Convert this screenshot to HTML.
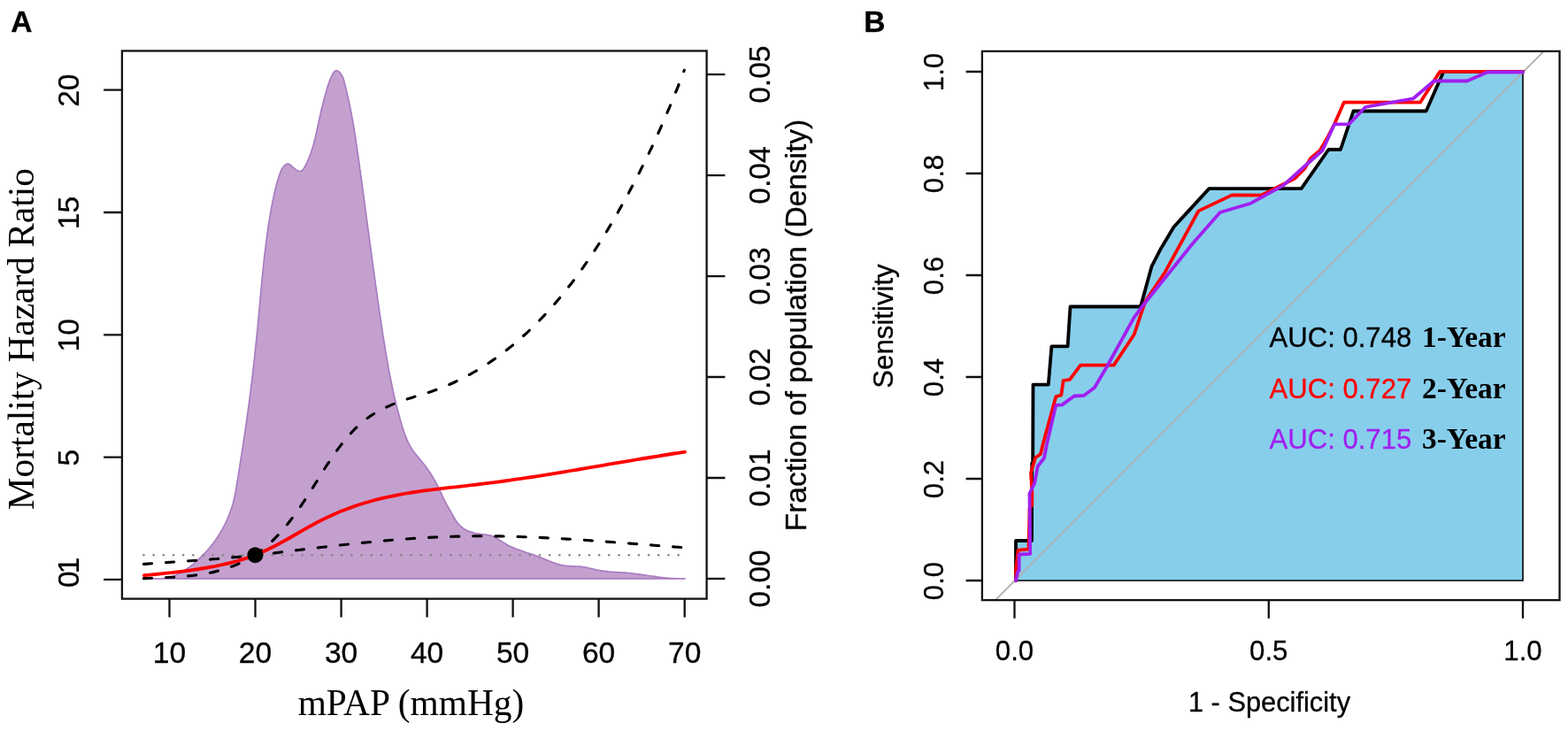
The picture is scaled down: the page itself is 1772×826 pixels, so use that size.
<!DOCTYPE html>
<html lang="en"><head><meta charset="utf-8"><title>mPAP hazard ratio and ROC</title>
<style>
html,body{margin:0;padding:0;background:#fff;}
body{width:1772px;height:826px;overflow:hidden;}
svg{display:block;}
text{font-family:"Liberation Sans",Arial,Helvetica,sans-serif;fill:#000;stroke:#000;stroke-width:0.3px;stroke-linejoin:round;}
.serif{font-family:"Liberation Serif","Times New Roman",Times,serif;stroke:none;}
.ax{stroke:#111111;stroke-width:2.3;fill:none;}
.ci{fill:none;stroke:#000;stroke-width:3.14;stroke-linecap:round;}
</style></head><body>
<svg width="1772" height="826" viewBox="0 0 1772 826">
<rect x="0" y="0" width="1772" height="826" fill="#ffffff"/>
<text x="12.3" y="36" font-size="33.6" font-weight="bold">A</text>
<text x="976.2" y="36" font-size="33.6" font-weight="bold">B</text>
<g id="panelA">
<path d="M169.9 653.8L171.7 653.8L173.4 653.8L175.1 653.8L176.7 653.8L178.4 653.8L180.1 653.8L181.7 653.8L183.3 653.8L184.9 653.8L186.5 653.8L188.1 653.4L189.7 653.0L191.2 652.6L192.8 652.1L194.3 651.6L195.8 651.0L197.3 650.4L198.8 649.8L200.2 649.1L201.7 648.4L203.1 647.6L204.6 646.9L206.0 646.1L207.4 645.2L208.8 644.3L210.1 643.4L211.5 642.5L212.8 641.6L214.2 640.6L215.5 639.6L216.8 638.6L218.1 637.6L219.4 636.5L220.6 635.4L221.9 634.3L223.1 633.2L224.3 632.1L225.5 631.0L226.7 629.9L227.9 628.7L229.1 627.5L230.2 626.3L231.4 625.2L232.5 623.9L233.6 622.7L234.7 621.5L235.7 620.3L236.8 619.0L237.8 617.7L238.9 616.4L239.9 615.2L240.9 613.9L241.9 612.5L242.8 611.2L243.8 609.9L244.7 608.5L245.6 607.2L246.5 605.8L247.4 604.4L248.3 603.1L249.1 601.7L250.0 600.3L250.8 598.8L251.6 597.4L252.4 596.0L253.1 594.5L253.9 593.1L254.6 591.6L255.3 590.2L256.0 588.7L256.7 587.2L257.3 585.7L258.0 584.2L258.6 582.7L259.2 581.2L259.7 579.6L260.3 578.1L260.8 576.6L261.4 575.0L261.9 573.5L262.4 571.9L262.8 570.3L263.3 568.8L263.7 567.2L264.1 565.6L264.5 564.0L264.8 562.4L265.2 560.8L265.5 559.2L265.9 557.6L266.2 556.0L266.5 554.4L266.8 552.7L267.0 551.1L267.3 549.5L267.6 547.9L267.8 546.2L268.1 544.6L268.4 543.0L268.6 541.4L268.9 539.7L269.1 538.1L269.4 536.5L269.6 534.9L269.9 533.2L270.1 531.6L270.4 530.0L270.7 528.4L270.9 526.8L271.2 525.1L271.4 523.5L271.7 521.9L271.9 520.3L272.2 518.7L272.4 517.0L272.7 515.4L273.0 513.8L273.2 512.2L273.5 510.6L273.7 508.9L274.0 507.3L274.2 505.7L274.5 504.1L274.7 502.5L275.0 500.9L275.2 499.2L275.4 497.6L275.7 496.0L275.9 494.4L276.2 492.8L276.4 491.1L276.7 489.5L276.9 487.9L277.1 486.3L277.4 484.7L277.6 483.0L277.8 481.4L278.1 479.8L278.3 478.2L278.5 476.6L278.8 474.9L279.0 473.3L279.2 471.7L279.5 470.1L279.7 468.5L279.9 466.8L280.1 465.2L280.3 463.6L280.6 462.0L280.8 460.3L281.0 458.7L281.2 457.1L281.4 455.5L281.6 453.8L281.9 452.2L282.1 450.6L282.3 449.0L282.5 447.4L282.7 445.7L282.9 444.1L283.1 442.5L283.3 440.8L283.5 439.2L283.7 437.6L283.9 436.0L284.1 434.3L284.3 432.7L284.5 431.1L284.7 429.5L284.9 427.8L285.1 426.2L285.3 424.6L285.5 423.0L285.7 421.3L285.9 419.7L286.1 418.1L286.2 416.4L286.4 414.8L286.6 413.2L286.8 411.6L287.0 409.9L287.2 408.3L287.3 406.7L287.5 405.0L287.7 403.4L287.9 401.8L288.1 400.1L288.2 398.5L288.4 396.9L288.6 395.2L288.7 393.6L288.9 392.0L289.1 390.4L289.3 388.7L289.4 387.1L289.6 385.5L289.8 383.8L289.9 382.2L290.1 380.6L290.2 378.9L290.4 377.3L290.6 375.7L290.7 374.0L290.9 372.4L291.0 370.8L291.2 369.1L291.4 367.5L291.5 365.9L291.7 364.2L291.8 362.6L292.0 360.9L292.1 359.3L292.3 357.7L292.4 356.0L292.6 354.4L292.7 352.8L292.9 351.1L293.0 349.5L293.2 347.9L293.3 346.2L293.5 344.6L293.6 343.0L293.8 341.3L293.9 339.7L294.1 338.1L294.2 336.4L294.4 334.8L294.5 333.2L294.7 331.5L294.8 329.9L295.0 328.2L295.1 326.6L295.3 325.0L295.4 323.3L295.6 321.7L295.7 320.1L295.9 318.4L296.0 316.8L296.2 315.2L296.3 313.5L296.5 311.9L296.7 310.3L296.8 308.6L297.0 307.0L297.2 305.4L297.3 303.8L297.5 302.1L297.7 300.5L297.8 298.9L298.0 297.2L298.2 295.6L298.4 294.0L298.5 292.3L298.7 290.7L298.9 289.1L299.1 287.5L299.3 285.8L299.5 284.2L299.7 282.6L299.9 280.9L300.1 279.3L300.3 277.7L300.5 276.1L300.7 274.4L300.9 272.8L301.1 271.2L301.3 269.6L301.5 268.0L301.8 266.3L302.0 264.7L302.2 263.1L302.4 261.5L302.7 259.8L302.9 258.2L303.1 256.6L303.4 255.0L303.6 253.4L303.9 251.8L304.1 250.1L304.4 248.5L304.7 246.9L304.9 245.3L305.2 243.7L305.5 242.1L305.7 240.5L306.0 238.8L306.3 237.2L306.6 235.6L306.9 234.0L307.2 232.4L307.5 230.8L307.8 229.2L308.1 227.6L308.4 226.0L308.8 224.4L309.1 222.8L309.4 221.2L309.8 219.6L310.1 218.0L310.5 216.4L310.9 214.8L311.3 213.2L311.7 211.6L312.1 210.0L312.5 208.4L312.9 206.8L313.4 205.2L313.9 203.7L314.3 202.1L314.8 200.5L315.4 198.9L315.9 197.3L316.5 195.8L317.1 194.2L317.7 192.7L318.4 191.2L319.3 189.8L320.2 188.5L321.3 187.3L322.5 186.2L323.8 185.4L325.2 185.1L326.7 185.5L328.1 186.3L329.4 187.5L330.7 188.7L332.0 189.8L333.3 191.0L334.8 192.0L336.4 192.8L338.1 193.4L339.7 193.5L341.0 193.0L342.1 192.0L343.1 190.7L343.9 189.3L344.7 187.8L345.5 186.3L346.3 184.8L347.0 183.3L347.7 181.8L348.4 180.3L349.0 178.8L349.6 177.3L350.2 175.7L350.8 174.2L351.4 172.6L351.9 171.1L352.4 169.5L352.9 168.0L353.4 166.4L353.8 164.9L354.3 163.3L354.7 161.7L355.1 160.1L355.5 158.5L355.9 157.0L356.3 155.4L356.7 153.8L357.0 152.2L357.4 150.6L357.8 149.0L358.1 147.4L358.5 145.8L358.8 144.2L359.1 142.6L359.5 141.0L359.8 139.4L360.2 137.8L360.5 136.1L360.9 134.5L361.2 132.9L361.6 131.3L361.9 129.7L362.3 128.1L362.7 126.5L363.0 124.9L363.4 123.3L363.8 121.7L364.2 120.1L364.6 118.5L365.0 116.9L365.4 115.3L365.8 113.7L366.2 112.2L366.6 110.6L367.1 109.0L367.5 107.4L367.9 105.9L368.4 104.3L368.8 102.8L369.3 101.2L369.7 99.7L370.2 98.1L370.7 96.6L371.2 95.1L371.7 93.5L372.3 91.9L372.9 90.4L373.6 88.8L374.2 87.2L375.0 85.6L375.7 84.0L376.6 82.5L377.7 81.2L378.9 80.3L380.3 79.8L381.6 80.1L382.9 80.9L384.1 82.0L385.1 83.2L386.0 84.5L386.7 85.9L387.4 87.4L388.0 88.9L388.5 90.5L389.0 92.2L389.4 93.8L389.8 95.4L390.2 97.1L390.6 98.7L391.0 100.3L391.4 101.9L391.8 103.5L392.2 105.1L392.5 106.8L392.9 108.4L393.3 110.0L393.6 111.5L394.0 113.1L394.3 114.7L394.7 116.3L395.0 117.9L395.4 119.5L395.7 121.1L396.0 122.7L396.3 124.3L396.6 125.9L396.9 127.5L397.2 129.1L397.5 130.7L397.8 132.3L398.1 133.9L398.4 135.5L398.7 137.2L399.0 138.8L399.3 140.4L399.5 142.0L399.8 143.6L400.1 145.2L400.3 146.8L400.6 148.5L400.9 150.1L401.1 151.7L401.4 153.3L401.6 154.9L401.9 156.6L402.1 158.2L402.3 159.8L402.6 161.4L402.8 163.1L403.1 164.7L403.3 166.3L403.5 167.9L403.8 169.6L404.0 171.2L404.2 172.8L404.5 174.4L404.7 176.1L404.9 177.7L405.2 179.3L405.4 180.9L405.6 182.6L405.8 184.2L406.1 185.8L406.3 187.4L406.5 189.1L406.7 190.7L407.0 192.3L407.2 193.9L407.4 195.6L407.6 197.2L407.9 198.8L408.1 200.4L408.3 202.1L408.5 203.7L408.8 205.3L409.0 206.9L409.2 208.6L409.4 210.2L409.6 211.8L409.9 213.4L410.1 215.1L410.3 216.7L410.5 218.3L410.7 219.9L411.0 221.6L411.2 223.2L411.4 224.8L411.6 226.4L411.8 228.1L412.1 229.7L412.3 231.3L412.5 232.9L412.7 234.6L412.9 236.2L413.1 237.8L413.4 239.4L413.6 241.1L413.8 242.7L414.0 244.3L414.2 245.9L414.4 247.6L414.7 249.2L414.9 250.8L415.1 252.4L415.3 254.1L415.5 255.7L415.7 257.3L416.0 258.9L416.2 260.6L416.4 262.2L416.6 263.8L416.8 265.4L417.0 267.1L417.3 268.7L417.5 270.3L417.7 271.9L417.9 273.6L418.1 275.2L418.4 276.8L418.6 278.4L418.8 280.1L419.0 281.7L419.2 283.3L419.4 284.9L419.7 286.6L419.9 288.2L420.1 289.8L420.3 291.4L420.5 293.1L420.8 294.7L421.0 296.3L421.2 297.9L421.4 299.6L421.7 301.2L421.9 302.8L422.1 304.4L422.3 306.0L422.5 307.7L422.8 309.3L423.0 310.9L423.2 312.5L423.4 314.2L423.7 315.8L423.9 317.4L424.1 319.0L424.3 320.7L424.6 322.3L424.8 323.9L425.0 325.5L425.3 327.1L425.5 328.8L425.7 330.4L425.9 332.0L426.2 333.6L426.4 335.3L426.6 336.9L426.9 338.5L427.1 340.1L427.3 341.8L427.6 343.4L427.8 345.0L428.0 346.6L428.3 348.2L428.5 349.9L428.7 351.5L429.0 353.1L429.2 354.7L429.5 356.4L429.7 358.0L429.9 359.6L430.2 361.2L430.4 362.8L430.7 364.5L430.9 366.1L431.2 367.7L431.4 369.3L431.6 370.9L431.9 372.6L432.1 374.2L432.4 375.8L432.6 377.4L432.9 379.1L433.1 380.7L433.4 382.3L433.7 383.9L433.9 385.5L434.2 387.2L434.4 388.8L434.7 390.4L434.9 392.0L435.2 393.6L435.5 395.3L435.7 396.9L436.0 398.5L436.3 400.1L436.6 401.7L436.8 403.3L437.1 405.0L437.4 406.6L437.7 408.2L438.0 409.8L438.3 411.4L438.5 413.0L438.8 414.7L439.1 416.3L439.4 417.9L439.7 419.5L440.0 421.1L440.3 422.7L440.7 424.3L441.0 425.9L441.3 427.5L441.6 429.1L441.9 430.8L442.3 432.4L442.6 434.0L442.9 435.6L443.3 437.2L443.6 438.8L444.0 440.4L444.3 442.0L444.7 443.6L445.0 445.2L445.4 446.8L445.7 448.4L446.1 450.0L446.5 451.6L446.9 453.2L447.3 454.8L447.6 456.4L448.0 457.9L448.4 459.5L448.8 461.1L449.2 462.7L449.7 464.3L450.1 465.9L450.5 467.5L450.9 469.1L451.4 470.6L451.8 472.2L452.2 473.8L452.7 475.4L453.1 477.0L453.6 478.5L454.1 480.1L454.5 481.7L455.0 483.3L455.5 484.8L456.0 486.4L456.5 488.0L457.1 489.5L457.6 491.0L458.2 492.6L458.8 494.1L459.4 495.6L460.0 497.1L460.7 498.6L461.4 500.1L462.1 501.5L462.9 503.0L463.7 504.4L464.5 505.8L465.4 507.2L466.3 508.5L467.2 509.9L468.2 511.2L469.2 512.5L470.2 513.8L471.2 515.1L472.3 516.4L473.4 517.6L474.4 518.9L475.5 520.2L476.5 521.5L477.6 522.8L478.6 524.0L479.6 525.3L480.7 526.6L481.6 527.9L482.6 529.3L483.6 530.6L484.5 531.9L485.4 533.3L486.3 534.6L487.2 536.0L488.1 537.4L488.9 538.7L489.8 540.1L490.6 541.6L491.4 543.0L492.2 544.4L492.9 545.9L493.7 547.3L494.4 548.8L495.1 550.3L495.9 551.8L496.6 553.3L497.3 554.8L498.0 556.2L498.7 557.7L499.4 559.2L500.1 560.7L500.8 562.2L501.5 563.7L502.2 565.1L503.0 566.6L503.7 568.0L504.5 569.5L505.2 570.9L506.0 572.3L506.8 573.7L507.7 575.1L508.5 576.5L509.3 577.9L510.1 579.4L510.9 580.8L511.8 582.3L512.6 583.7L513.4 585.2L514.3 586.7L515.2 588.1L516.1 589.5L517.1 590.8L518.2 592.1L519.2 593.3L520.4 594.5L521.6 595.5L522.9 596.5L524.2 597.4L525.6 598.2L527.0 599.0L528.4 599.7L529.9 600.3L531.5 600.9L533.0 601.4L534.6 601.8L536.2 602.2L537.8 602.6L539.5 602.9L541.1 603.1L542.8 603.4L544.4 603.6L546.1 603.8L547.7 604.0L549.3 604.2L550.9 604.5L552.5 604.8L554.1 605.1L555.7 605.6L557.2 606.1L558.7 606.7L560.1 607.4L561.6 608.2L563.0 609.1L564.4 610.1L565.8 611.0L567.2 612.0L568.6 612.9L570.0 613.8L571.4 614.6L572.8 615.4L574.3 616.2L575.7 616.9L577.2 617.6L578.7 618.3L580.2 619.0L581.7 619.6L583.2 620.2L584.7 620.8L586.3 621.3L587.8 621.9L589.3 622.4L590.9 622.9L592.4 623.5L594.0 624.0L595.5 624.5L597.1 625.0L598.6 625.5L600.2 626.0L601.8 626.5L603.3 627.1L604.9 627.6L606.4 628.2L607.9 628.8L609.5 629.4L611.0 630.0L612.5 630.6L614.1 631.2L615.6 631.9L617.1 632.5L618.6 633.1L620.2 633.8L621.7 634.4L623.2 635.0L624.8 635.6L626.3 636.1L627.9 636.7L629.4 637.1L631.0 637.6L632.5 638.0L634.1 638.4L635.7 638.7L637.3 639.0L638.9 639.3L640.5 639.4L642.2 639.6L643.8 639.7L645.4 639.8L647.1 639.8L648.7 639.9L650.4 640.0L652.0 640.0L653.7 640.1L655.3 640.2L657.0 640.4L658.6 640.6L660.2 640.8L661.8 641.1L663.4 641.4L665.0 641.8L666.6 642.1L668.2 642.5L669.8 642.9L671.4 643.2L673.0 643.6L674.6 644.0L676.3 644.3L677.9 644.6L679.5 644.9L681.1 645.1L682.7 645.3L684.3 645.5L686.0 645.7L687.6 645.9L689.2 646.0L690.8 646.1L692.5 646.3L694.1 646.4L695.7 646.5L697.4 646.6L699.0 646.7L700.7 646.8L702.3 646.9L703.9 647.0L705.6 647.1L707.2 647.2L708.8 647.4L710.5 647.5L712.1 647.7L713.7 647.9L715.3 648.1L717.0 648.3L718.6 648.5L720.2 648.7L721.8 648.9L723.5 649.1L725.1 649.3L726.7 649.6L728.3 649.8L730.0 650.0L731.6 650.3L733.2 650.5L734.8 650.7L736.5 651.0L738.1 651.2L739.7 651.4L741.3 651.6L742.9 651.9L744.6 652.1L746.2 652.3L747.8 652.5L749.4 652.7L751.1 652.8L752.7 653.0L754.3 653.2L756.0 653.3L757.6 653.4L759.2 653.5L760.9 653.7L762.5 653.7L764.1 653.8L765.8 653.8L767.4 653.8L769.1 653.8L770.7 653.8L772.4 653.8L774.0 653.8L774.0 653.9L169.9 653.9Z" fill="#C3A0CE" stroke="#A87CC0" stroke-width="1.7" stroke-linejoin="round"/>
<line x1="162.4" y1="627.25" x2="768" y2="627.25" stroke="#858585" stroke-width="2.7" stroke-linecap="round" stroke-dasharray="0.01 11.18"/>
<path class="ci" d="M162.2 637.4L166.6 637.1L170.9 636.8L175.3 636.5L179.6 636.2L184.0 635.9L188.3 635.6L192.7 635.3L197.0 635.0L201.4 634.7L205.7 634.4L210.1 634.1L214.4 633.8L218.8 633.5L223.1 633.2L227.5 632.8L231.8 632.5L236.2 632.2L240.5 631.8L244.9 631.5L249.2 631.1L253.6 630.7L257.9 630.3L262.3 629.9L266.6 629.5L271.0 629.1L275.3 628.6L279.7 628.1L284.0 627.7L288.4 627.2" stroke-dasharray="9.20 15.92" stroke-dashoffset="24.91"/>
<path class="ci" d="M288.4 627.5L293.8 626.8L299.3 626.2L304.7 625.5L310.1 624.9L315.6 624.2L321.0 623.5L326.4 622.9L331.9 622.2L337.3 621.5L342.7 620.9L348.2 620.2L353.6 619.6L359.0 618.9L364.5 618.3L369.9 617.7L375.3 617.1L380.8 616.4L386.2 615.8L391.6 615.2L397.1 614.7L402.5 614.1L407.9 613.5L413.4 613.0L418.8 612.5L424.2 611.9L429.7 611.4L435.1 610.9L440.5 610.5L446.0 610.0L451.4 609.6L456.8 609.2L462.3 608.8L467.7 608.4L473.1 608.1L478.6 607.7L484.0 607.4L489.4 607.1L494.9 606.9L500.3 606.6L505.7 606.4L511.2 606.3L516.6 606.1L522.0 606.0L527.5 605.9L532.9 605.8L538.4 605.8L543.8 605.8L549.2 605.8L554.7 605.8L560.1 605.9L565.5 605.9L571.0 606.1L576.4 606.2L581.8 606.3L587.3 606.5L592.7 606.7L598.1 606.9L603.6 607.1L609.0 607.3L614.4 607.6L619.9 607.9L625.3 608.2L630.7 608.5L636.2 608.8L641.6 609.1L647.0 609.4L652.5 609.8L657.9 610.1L663.3 610.5L668.8 610.9L674.2 611.3L679.6 611.7L685.1 612.1L690.5 612.5L695.9 612.9L701.4 613.3L706.8 613.7L712.2 614.1L717.7 614.5L723.1 615.0L728.5 615.4L734.0 615.8L739.4 616.2L744.8 616.6L750.3 617.1L755.7 617.5L761.1 617.9L766.6 618.3L772.0 618.7" stroke-dasharray="9.20 15.94" stroke-dashoffset="3.95"/>
<path class="ci" d="M162.2 653.7L166.6 653.5L170.9 653.3L175.3 653.1L179.6 652.9L184.0 652.7L188.3 652.5L192.7 652.3L197.0 652.1L201.4 651.8L205.7 651.5L210.1 651.1L214.4 650.7L218.8 650.2L223.1 649.7L227.5 649.0L231.8 648.3L236.2 647.5L240.5 646.6L244.9 645.5L249.2 644.4L253.6 643.1L257.9 641.6L262.3 640.1L266.6 638.4L271.0 636.5L275.3 634.4L279.7 632.2L284.0 629.8L288.4 627.2" stroke-dasharray="9.20 15.92" stroke-dashoffset="24.91"/>
<path class="ci" d="M288.4 627.3L292.4 624.4L296.2 621.4L299.9 618.3L303.5 615.1L307.0 611.9L310.4 608.6L313.7 605.2L316.8 601.7L319.9 598.2L323.0 594.6L325.9 591.0L328.8 587.3L331.6 583.6L334.4 579.8L337.1 576.0L339.8 572.1L342.4 568.2L345.0 564.2L347.6 560.2L350.2 556.2L352.8 552.2L355.3 548.1L357.9 544.0L360.4 539.9L363.0 535.7L365.6 531.6L368.2 527.5L370.9 523.4L373.6 519.4L376.3 515.3L379.1 511.4L381.9 507.4L384.8 503.6L387.7 499.8L390.7 496.1L393.8 492.5L397.0 489.0L400.2 485.6L403.6 482.3L407.0 479.2L410.5 476.2L414.2 473.3L417.9 470.6L421.8 468.0L425.8 465.6L429.9 463.4L434.0 461.3L438.3 459.3L442.6 457.4L447.0 455.6L451.5 454.0L456.0 452.4L460.5 450.8L465.1 449.4L469.7 447.9L474.3 446.5L478.9 445.1L483.5 443.7L488.0 442.2L492.5 440.6L497.0 438.9L501.4 437.2L505.9 435.4L510.2 433.5L514.5 431.5L518.8 429.4L523.1 427.3L527.3 425.1L531.5 422.9L535.6 420.5L539.7 418.1L543.8 415.7L547.8 413.1L551.7 410.6L555.7 407.9L559.6 405.2L563.4 402.4L567.2 399.6L571.0 396.8L574.7 393.8L578.4 390.9L582.0 387.8L585.6 384.8L589.2 381.7L592.7 378.5L596.2 375.3L599.6 372.0L603.0 368.7L606.4 365.4L609.7 362.0L613.0 358.6L616.3 355.1L619.5 351.7L622.7 348.1L625.8 344.6L628.9 341.0L632.0 337.3L635.0 333.7L638.0 330.0L641.0 326.2L643.9 322.5L646.9 318.7L649.7 314.9L652.6 311.0L655.4 307.2L658.2 303.3L660.9 299.4L663.7 295.4L666.4 291.5L669.0 287.5L671.7 283.5L674.3 279.5L676.9 275.5L679.4 271.4L682.0 267.3L684.5 263.3L687.0 259.2L689.4 255.1L691.9 251.0L694.3 246.9L696.7 242.7L699.0 238.6L701.4 234.4L703.7 230.3L706.0 226.1L708.3 222.0L710.6 217.8L712.8 213.6L715.0 209.4L717.2 205.3L719.4 201.1L721.6 196.8L723.7 192.6L725.8 188.4L727.9 184.2L730.0 179.9L732.1 175.7L734.1 171.4L736.2 167.2L738.2 162.9L740.2 158.6L742.2 154.3L744.1 150.0L746.1 145.6L748.0 141.3L749.9 137.0L751.8 132.6L753.7 128.2L755.5 123.9L757.4 119.5L759.2 115.1L761.0 110.6L762.8 106.2L764.6 101.8L766.4 97.3L768.2 92.8L769.9 88.3L771.6 83.8L773.3 79.3" stroke-dasharray="9.20 15.97" stroke-dashoffset="0.10"/>
<path d="M162.9 650.2L169.1 649.6L175.2 649.0L181.4 648.4L187.6 647.7L193.8 647.1L199.9 646.3L206.1 645.6L212.3 644.8L218.5 643.9L224.6 643.0L230.8 642.0L237.0 640.9L243.1 639.8L249.3 638.5L255.5 637.1L261.7 635.6L267.8 634.0L274.0 632.1L280.2 630.1L286.4 627.9L292.5 625.5L298.7 622.8L304.9 619.8L311.0 616.7L317.2 613.4L323.4 610.0L329.6 606.5L335.7 603.0L341.9 599.4L348.1 595.9L354.3 592.5L360.4 589.2L366.6 586.1L372.8 583.2L378.9 580.4L385.1 577.8L391.3 575.4L397.5 573.1L403.6 571.0L409.8 569.0L416.0 567.2L422.2 565.5L428.3 563.9L434.5 562.4L440.7 561.1L446.8 559.8L453.0 558.6L459.2 557.5L465.4 556.5L471.5 555.6L477.7 554.7L483.9 553.9L490.1 553.1L496.2 552.4L502.4 551.6L508.6 550.9L514.7 550.3L520.9 549.6L527.1 548.9L533.3 548.2L539.4 547.5L545.6 546.7L551.8 545.9L558.0 545.2L564.1 544.3L570.3 543.5L576.5 542.6L582.6 541.7L588.8 540.8L595.0 539.9L601.2 539.0L607.3 538.0L613.5 537.1L619.7 536.1L625.9 535.1L632.0 534.1L638.2 533.1L644.4 532.0L650.5 531.0L656.7 530.0L662.9 528.9L669.1 527.9L675.2 526.8L681.4 525.8L687.6 524.7L693.8 523.7L699.9 522.6L706.1 521.6L712.3 520.6L718.4 519.5L724.6 518.5L730.8 517.5L737.0 516.5L743.1 515.5L749.3 514.5L755.5 513.5L761.7 512.5L767.8 511.6L774.0 510.6" fill="none" stroke="#FF0000" stroke-width="3.8" stroke-linecap="round" stroke-linejoin="round"/>
<circle cx="288.4" cy="627.2" r="9.0" fill="#000"/>
<rect class="ax" x="137.9" y="57.5" width="660.7" height="619.1"/>
<path class="ax" d="M137.9 654.9H117.1M137.9 516.6H117.1M137.9 378.3H117.1M137.9 240.0H117.1M137.9 101.7H117.1M191.5 676.6V697.4M288.5 676.6V697.4M385.6 676.6V697.4M482.6 676.6V697.4M579.6 676.6V697.4M676.6 676.6V697.4M773.7 676.6V697.4M798.6 653.9H819.4M798.6 540.0H819.4M798.6 426.0H819.4M798.6 312.1H819.4M798.6 198.1H819.4M798.6 84.2H819.4"/>
<text x="191.5" y="749" font-size="33.6" text-anchor="middle">10</text>
<text x="288.5" y="749" font-size="33.6" text-anchor="middle">20</text>
<text x="385.6" y="749" font-size="33.6" text-anchor="middle">30</text>
<text x="482.6" y="749" font-size="33.6" text-anchor="middle">40</text>
<text x="579.6" y="749" font-size="33.6" text-anchor="middle">50</text>
<text x="676.6" y="749" font-size="33.6" text-anchor="middle">60</text>
<text x="773.7" y="749" font-size="33.6" text-anchor="middle">70</text>
<text transform="translate(88.8 517.1) rotate(-90)" font-size="33.6" text-anchor="middle">5</text>
<text transform="translate(88.8 378.8) rotate(-90)" font-size="33.6" text-anchor="middle">10</text>
<text transform="translate(88.8 240.5) rotate(-90)" font-size="33.6" text-anchor="middle">15</text>
<text transform="translate(88.8 102.2) rotate(-90)" font-size="33.6" text-anchor="middle">20</text>
<text transform="translate(88.8 654.7) rotate(-90)" font-size="33.6" text-anchor="middle">0</text>
<text transform="translate(88.8 638.8) rotate(-90)" font-size="33.6" text-anchor="middle">1</text>
<text transform="translate(870.3 653.9) rotate(-90)" font-size="33.6" text-anchor="middle">0.00</text>
<text transform="translate(870.3 540.0) rotate(-90)" font-size="33.6" text-anchor="middle">0.01</text>
<text transform="translate(870.3 426.0) rotate(-90)" font-size="33.6" text-anchor="middle">0.02</text>
<text transform="translate(870.3 312.1) rotate(-90)" font-size="33.6" text-anchor="middle">0.03</text>
<text transform="translate(870.3 198.1) rotate(-90)" font-size="33.6" text-anchor="middle">0.04</text>
<text transform="translate(870.3 84.2) rotate(-90)" font-size="33.6" text-anchor="middle">0.05</text>
<text class="serif" transform="translate(38.3 383.2) rotate(-90)" font-size="41.4" text-anchor="middle">Mortality Hazard Ratio</text>
<text class="serif" x="464.5" y="808" font-size="41.4" text-anchor="middle">mPAP (mmHg)</text>
<text transform="translate(910.8 367.5) rotate(-90)" font-size="33.5" text-anchor="middle">Fraction of population (Density)</text>
</g>
<g id="panelB">
<path d="M1148.0 656.0L1148.0 611.0L1166.0 611.0L1166.2 523.5L1167.2 523.5L1167.5 434.6L1184.8 434.6L1188.4 391.3L1206.6 391.3L1209.5 346.5L1289.0 346.5L1301.5 301.0L1312.0 280.7L1326.5 256.5L1338.1 243.9L1366.4 213.1L1470.6 213.1L1501.4 169.0L1515.0 169.0L1529.5 125.5L1611.7 125.5L1631.3 81.0L1721.0 81.0L1721.0 656.0Z" fill="#87CEEB" stroke="#000" stroke-width="1.6" stroke-linejoin="miter"/>
<line x1="1124.8" y1="678.1" x2="1745.0" y2="57.6" stroke="#B0B0B0" stroke-width="2.0"/>
<path d="M1148.0 656.0L1148.0 611.0L1166.0 611.0L1166.2 523.5L1167.2 523.5L1167.5 434.6L1184.8 434.6L1188.4 391.3L1206.6 391.3L1209.5 346.5L1289.0 346.5L1301.5 301.0L1312.0 280.7L1326.5 256.5L1338.1 243.9L1366.4 213.1L1470.6 213.1L1501.4 169.0L1515.0 169.0L1529.5 125.5L1611.7 125.5L1631.3 81.0L1721.0 81.0" fill="none" stroke="#000" stroke-width="3.8" stroke-linejoin="round" stroke-linecap="round"/>
<path d="M1148.0 656.0L1148.3 642.0L1150.6 621.6L1162.5 620.6L1163.6 574.0L1166.3 571.0L1166.3 556.0L1165.0 534.4L1170.0 517.2L1176.0 513.0L1179.0 500.5L1193.3 448.2L1199.3 446.5L1201.7 430.0L1209.0 428.8L1221.1 412.6L1258.7 412.6L1281.7 378.0L1291.4 348.9L1294.5 340.3L1316.8 307.2L1354.4 238.4L1392.4 220.4L1425.3 220.6L1450.2 208.2L1463.0 201.8L1474.5 190.5L1481.0 179.0L1491.7 170.0L1500.4 155.0L1508.1 140.0L1518.8 115.7L1605.0 115.7L1627.3 80.8L1721.0 80.8" fill="none" stroke="#FF0000" stroke-width="3.8" stroke-linejoin="round" stroke-linecap="round"/>
<path d="M1148.0 656.0L1150.2 645.8L1151.6 644.5L1151.6 626.5L1164.2 625.9L1163.5 557.5L1169.0 546.5L1172.7 527.1L1180.0 517.5L1183.3 500.5L1193.3 457.9L1200.5 457.4L1213.9 447.5L1224.8 447.0L1236.9 438.0L1250.2 415.5L1281.7 358.6L1290.0 347.3L1347.8 275.2L1378.8 240.0L1413.6 229.7L1450.4 209.4L1471.4 190.5L1494.6 170.0L1508.1 140.3L1524.6 140.3L1543.0 121.0L1597.3 111.3L1620.5 91.5L1658.0 91.5L1681.0 81.5L1721.0 81.5" fill="none" stroke="#A020F0" stroke-width="3.8" stroke-linejoin="round" stroke-linecap="round"/>
<rect class="ax" x="1109.9" y="57.9" width="652.6" height="620.2"/>
<path class="ax" d="M1109.9 656.0H1091.6M1109.9 541.0H1091.6M1109.9 426.0H1091.6M1109.9 311.0H1091.6M1109.9 196.0H1091.6M1109.9 81.0H1091.6M1146.5 678.1V698.7M1433.8 678.1V698.7M1721.0 678.1V698.7"/>
<text x="1146.5" y="746.2" font-size="31.2" text-anchor="middle">0.0</text>
<text x="1433.8" y="746.2" font-size="31.2" text-anchor="middle">0.5</text>
<text x="1721.0" y="746.2" font-size="31.2" text-anchor="middle">1.0</text>
<text transform="translate(1066.0 656.5) rotate(-90)" font-size="31.2" text-anchor="middle">0.0</text>
<text transform="translate(1066.0 541.5) rotate(-90)" font-size="31.2" text-anchor="middle">0.2</text>
<text transform="translate(1066.0 426.5) rotate(-90)" font-size="31.2" text-anchor="middle">0.4</text>
<text transform="translate(1066.0 311.5) rotate(-90)" font-size="31.2" text-anchor="middle">0.6</text>
<text transform="translate(1066.0 196.5) rotate(-90)" font-size="31.2" text-anchor="middle">0.8</text>
<text transform="translate(1066.0 81.5) rotate(-90)" font-size="31.2" text-anchor="middle">1.0</text>
<text transform="translate(1009.2 368.5) rotate(-90)" font-size="31.2" text-anchor="middle">Sensitivity</text>
<text x="1434.5" y="804" font-size="30.8" text-anchor="middle">1 - Specificity</text>
<text x="1434.5" y="391.6" font-size="31.1" style="fill:#000;stroke:#000">AUC: 0.748</text>
<text class="serif" x="1607.0" y="391.6" font-size="33.4" font-weight="bold">1-Year</text>
<text x="1434.5" y="450.2" font-size="31.1" style="fill:#FF0000;stroke:#FF0000">AUC: 0.727</text>
<text class="serif" x="1607.0" y="450.2" font-size="33.4" font-weight="bold">2-Year</text>
<text x="1434.5" y="507" font-size="31.1" style="fill:#A020F0;stroke:#A020F0">AUC: 0.715</text>
<text class="serif" x="1607.0" y="507" font-size="33.4" font-weight="bold">3-Year</text>
</g>
</svg>
</body></html>
